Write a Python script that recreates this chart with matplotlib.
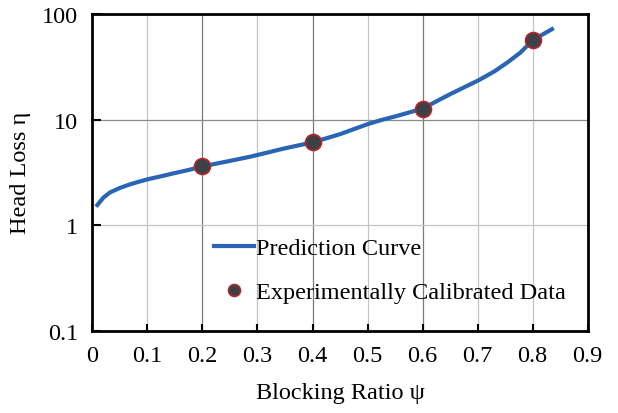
import numpy as np
import matplotlib
matplotlib.use("Agg")
import matplotlib.pyplot as plt

# prediction curve
psi_curve = [0.009, 0.02, 0.032, 0.05, 0.069, 0.085, 0.102, 0.125, 0.147, 0.175, 0.2, 0.25,
             0.287, 0.317, 0.347, 0.375, 0.4, 0.45, 0.5, 0.525, 0.553, 0.6, 0.65, 0.702,
             0.73, 0.754, 0.778, 0.8, 0.835]
eta_curve = [1.55, 1.82, 2.04, 2.25, 2.44, 2.58, 2.73, 2.9, 3.09, 3.33, 3.6, 4.06,
             4.45, 4.85, 5.3, 5.7, 6.07, 7.27, 9.04, 9.9, 10.8, 12.7, 17.4, 23.6,
             28.5, 34.7, 43.2, 56.5, 71.8]

# experimentally calibrated points
psi_exp = [0.2, 0.4, 0.6, 0.8]
eta_exp = [3.6, 6.07, 12.7, 56.5]

x_ticks = [0, 0.1, 0.2, 0.3, 0.4, 0.5, 0.6, 0.7, 0.8, 0.9]
y_ticks = [0.1, 1, 10, 100]
y_labels = ["0.1", "1", "10", "100"]

plt.rcParams["font.family"] = ["Liberation Serif", "DejaVu Serif"]
plt.rcParams["font.size"] = 17.5

fig = plt.figure(figsize=(6.18, 4.14), dpi=100)
ax = fig.add_axes([0.1494, 0.1988, 0.8016, 0.765])

ax.plot(psi_curve, eta_curve, color="#2a65b5", lw=3, label="Prediction Curve", zorder=3)
ax.plot(psi_exp, eta_exp, ls="none", marker="o", ms=11.5, mfc="#3b4145",
        mec="#b8262b", mew=1.2, label="Experimentally Calibrated Data", zorder=4)

ax.set_yscale("log")
ax.set_xlim(0, 0.9)
ax.set_ylim(0.1, 100)
ax.set_xticks(x_ticks)
ax.set_xticklabels([f"{t:g}" for t in x_ticks])
ax.set_yticks(y_ticks)
ax.set_yticklabels(y_labels)
ax.yaxis.set_minor_locator(matplotlib.ticker.NullLocator())

ax.tick_params(axis="x", direction="in", length=5, width=1.5, pad=10)
ax.tick_params(axis="y", direction="in", length=6.5, width=1.5, pad=10)
for s in ax.spines.values():
    s.set_linewidth(2)

ax.grid(True, color="#c4c4c4", lw=0.9)
# a few grid lines look darker in the reference
xg = ax.get_xgridlines()
for i in (2, 4, 6):
    xg[i].set_color("#7a7a7a")
ax.get_ygridlines()[2].set_color("#8a8a8a")
ax.set_axisbelow(True)

ax.set_xlabel("Blocking Ratio \u03c8", labelpad=12)
ax.set_ylabel("Head Loss \u03b7", labelpad=8)

ax.legend(loc="upper left", bbox_to_anchor=(0.245, 0.295), frameon=False,
          handlelength=1.65, handletextpad=0.1, labelspacing=0.9, markerscale=0.75,
          borderaxespad=0, borderpad=0, fontsize=17.5)

fig.savefig("out.png", dpi=100)
